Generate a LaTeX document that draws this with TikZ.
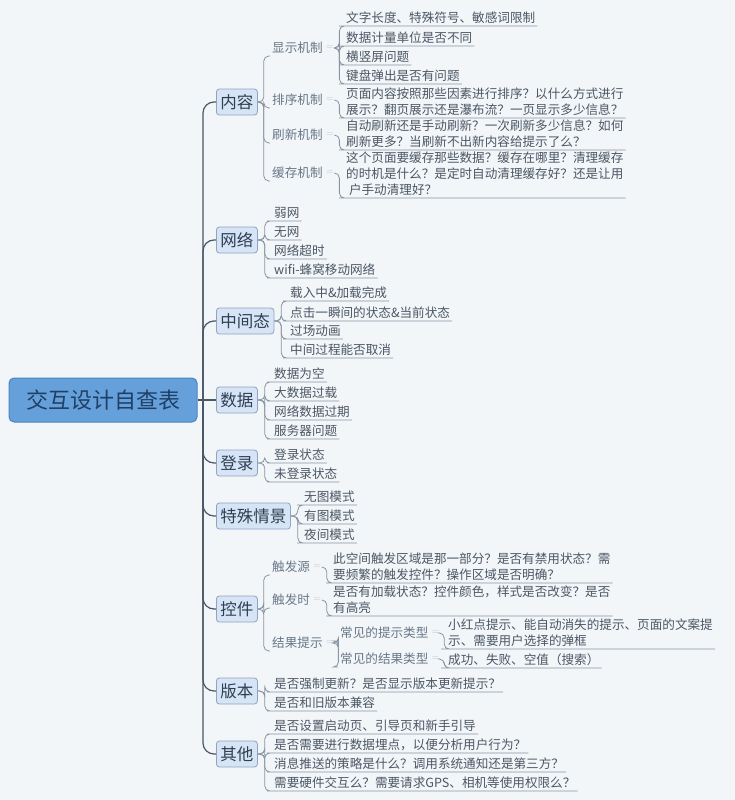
\documentclass[tikz,border=0pt]{standalone}
\usepackage{fontspec}
\newfontfamily\cjk{Noto Sans CJK SC}

\definecolor{bgc}{HTML}{F3F6F9}
\definecolor{rootfill}{HTML}{66A0DA}
\definecolor{rootline}{HTML}{4A84C2}
\definecolor{roottext}{HTML}{1F3F66}
\definecolor{topfill}{HTML}{D6E4F5}
\definecolor{topline}{HTML}{8EA5C2}
\definecolor{toptext}{HTML}{2E3F55}
\definecolor{subtext}{HTML}{687888}
\definecolor{leaftext}{HTML}{4B5764}
\definecolor{trunkc}{HTML}{4A5766}
\definecolor{twigc}{HTML}{8895A3}
\definecolor{markc}{HTML}{B3BECA}

\tikzset{
  root/.style={draw=rootline, fill=rootfill, line width=1pt, rounded corners=5pt,
    minimum width=188pt, minimum height=44pt, text=roottext,
    font=\cjk\fontsize{22}{24}\selectfont},
  topic/.style={draw=topline, fill=topfill, line width=0.8pt, rounded corners=3pt,
    anchor=west, minimum height=26pt, inner xsep=4pt, text=toptext,
    font=\cjk\fontsize{16.5}{18}\selectfont},
  sub/.style={anchor=south west, inner xsep=2pt, inner ysep=2pt, text=subtext,
    font=\cjk\fontsize{12.6}{16}\selectfont},
  leaf/.style={anchor=south west, inner xsep=2pt, inner ysep=2pt, align=left,
    text=leaftext, font=\cjk\fontsize{12.6}{16}\selectfont},
  foldmk/.style={anchor=west, inner sep=1pt, text=markc, font=\fontsize{9}{9}\selectfont},
  trunk/.style={draw=trunkc, line width=1.2pt, rounded corners=11pt},
  twig/.style={draw=twigc, line width=0.8pt, rounded corners=5pt},
}

\begin{document}
\begin{tikzpicture}[x=1pt,y=-1pt]
   \fill[bgc] (0,0) rectangle (735,800);

   \node[root] (root) at (103,400) {交互设计自查表};
   \coordinate (tr) at (203,400);

   \node[topic] (nr) at (216,102) {内容};
   \node[topic] (nw) at (216,240) {网络};
   \node[topic] (nz) at (216,321) {中间态};
   \node[topic] (ns) at (216,400) {数据};
   \node[topic] (nd) at (216,463) {登录};
   \node[topic] (nt) at (216,516) {特殊情景};
   \node[topic] (nk) at (216,609) {控件};
   \node[topic] (nb) at (216,691) {版本};
   \node[topic] (nq) at (216,754) {其他};

   \draw[trunk] (root.east) -- (tr);
   \draw[trunk] (tr) |- (nr.west);
   \draw[trunk] (tr) |- (nw.west);
   \draw[trunk] (tr) |- (nz.west);
   \draw[trunk] (tr) -- (ns.west);
   \draw[trunk] (tr) |- (nd.west);
   \draw[trunk] (tr) |- (nt.west);
   \draw[trunk] (tr) |- (nk.west);
   \draw[trunk] (tr) |- (nb.west);
   \draw[trunk] (tr) |- (nq.west);

   % 内容
   \node[sub] (xs) at (270,56) {显示机制};
   \node[sub] (px) at (270,108) {排序机制};
   \node[sub] (sx) at (270,143) {刷新机制};
   \node[sub] (hc) at (270,181) {缓存机制};
   \node[foldmk] (xsm) at (xs.east) {=};
   \node[foldmk] (pxm) at (px.east) {=};
   \node[foldmk] (sxm) at (sx.east) {=};
   \node[foldmk] (hcm) at (hc.east) {=};
   \draw[twig] (nr.east) -- ++(6,0) |- (xs.south west);
   \draw[twig] (nr.east) -- ++(6,0) |- (px.south west);
   \draw[twig] (nr.east) -- ++(6,0) |- (sx.south west);
   \draw[twig] (nr.east) -- ++(6,0) |- (hc.south west);

   \node[leaf] (xs1) at (344,26) {文字长度、特殊符号、敏感词限制};
   \node[leaf] (xs2) at (344,46) {数据计量单位是否不同};
   \node[leaf] (xs3) at (344,65) {横竖屏问题};
   \node[leaf] (xs4) at (344,84) {键盘弹出是否有问题};
   \draw[twig] (xsm.east) -- ++(5,0) |- (xs1.south west) -- (xs1.south east);
   \draw[twig] (xsm.east) -- ++(5,0) |- (xs2.south west) -- (xs2.south east);
   \draw[twig] (xsm.east) -- ++(5,0) |- (xs3.south west) -- (xs3.south east);
   \draw[twig] (xsm.east) -- ++(5,0) |- (xs4.south west) -- (xs4.south east);

   \node[leaf] (px1) at (344,118) {页面内容按照那些因素进行排序？以什么方式进行\\展示？翻页展示还是瀑布流？一页显示多少信息？};
   \node[leaf] (sx1) at (344,150) {自动刷新还是手动刷新？一次刷新多少信息？如何\\刷新更多？当刷新不出新内容给提示了么？};
   \node[leaf] (hc1) at (344,198) {这个页面要缓存那些数据？缓存在哪里？清理缓存\\的时机是什么？是定时自动清理缓存好？还是让用\\\ 户手动清理好？};
   \draw[twig] (pxm.east) -- ++(5,0) |- (px1.south west) -- (px1.south east);
   \draw[twig] (sxm.east) -- ++(5,0) |- (sx1.south west) -- (sx1.south east);
   \draw[twig] (hcm.east) -- ++(5,0) |- (hc1.south west) -- (hc1.south east);

   % 网络
   \node[leaf] (nw1) at (272,221) {弱网};
   \node[leaf] (nw2) at (272,240) {无网};
   \node[leaf] (nw3) at (272,259) {网络超时};
   \node[leaf] (nw4) at (272,278) {wifi-蜂窝移动网络};
   \draw[twig] (nw.east) -- ++(7,0) |- (nw1.south west) -- (nw1.south east);
   \draw[twig] (nw.east) -- ++(7,0) |- (nw2.south west) -- (nw2.south east);
   \draw[twig] (nw.east) -- ++(7,0) |- (nw3.south west) -- (nw3.south east);
   \draw[twig] (nw.east) -- ++(7,0) |- (nw4.south west) -- (nw4.south east);

   % 中间态
   \node[leaf] (zj1) at (288,301) {载入中\&加载完成};
   \node[leaf] (zj2) at (288,321) {点击一瞬间的状态\&当前状态};
   \node[leaf] (zj3) at (288,339) {过场动画};
   \node[leaf] (zj4) at (288,358) {中间过程能否取消};
   \draw[twig] (nz.east) -- ++(7,0) |- (zj1.south west) -- (zj1.south east);
   \draw[twig] (nz.east) -- ++(7,0) |- (zj2.south west) -- (zj2.south east);
   \draw[twig] (nz.east) -- ++(7,0) |- (zj3.south west) -- (zj3.south east);
   \draw[twig] (nz.east) -- ++(7,0) |- (zj4.south west) -- (zj4.south east);

   % 数据
   \node[leaf] (sj1) at (272,382) {数据为空};
   \node[leaf] (sj2) at (272,401) {大数据过载};
   \node[leaf] (sj3) at (272,420) {网络数据过期};
   \node[leaf] (sj4) at (272,439) {服务器问题};
   \draw[twig] (ns.east) -- ++(7,0) |- (sj1.south west) -- (sj1.south east);
   \draw[twig] (ns.east) -- ++(7,0) |- (sj2.south west) -- (sj2.south east);
   \draw[twig] (ns.east) -- ++(7,0) |- (sj3.south west) -- (sj3.south east);
   \draw[twig] (ns.east) -- ++(7,0) |- (sj4.south west) -- (sj4.south east);

   % 登录
   \node[leaf] (dl1) at (272,463) {登录状态};
   \node[leaf] (dl2) at (272,482) {未登录状态};
   \draw[twig] (nd.east) -- ++(7,0) |- (dl1.south west) -- (dl1.south east);
   \draw[twig] (nd.east) -- ++(7,0) |- (dl2.south west) -- (dl2.south east);

   % 特殊情景
   \node[leaf] (ts1) at (302,505) {无图模式};
   \node[leaf] (ts2) at (302,524) {有图模式};
   \node[leaf] (ts3) at (302,543) {夜间模式};
   \draw[twig] (nt.east) -- ++(7,0) |- (ts1.south west) -- (ts1.south east);
   \draw[twig] (nt.east) -- ++(7,0) |- (ts2.south west) -- (ts2.south east);
   \draw[twig] (nt.east) -- ++(7,0) |- (ts3.south west) -- (ts3.south east);

   % 控件
   \node[sub] (cf) at (270,575) {触发源};
   \node[sub] (cs) at (270,608) {触发时};
   \node[sub] (jg) at (270,651) {结果提示};
   \node[foldmk] (cfm) at (cf.east) {=};
   \node[foldmk] (csm) at (cs.east) {=};
   \node[foldmk] (jgm) at (jg.east) {=};
   \draw[twig] (nk.east) -- ++(6,0) |- (cf.south west);
   \draw[twig] (nk.east) -- ++(6,0) |- (cs.south west);
   \draw[twig] (nk.east) -- ++(6,0) |- (jg.south west);

   \node[leaf] (cf1) at (331,583) {此空间触发区域是那一部分？是否有禁用状态？需\\要频繁的触发控件？操作区域是否明确？};
   \node[leaf] (cs1) at (331,616) {是否有加载状态？控件颜色，样式是否改变？是否\\有高亮};
   \draw[twig] (cfm.east) -- ++(5,0) |- (cf1.south west) -- (cf1.south east);
   \draw[twig] (csm.east) -- ++(5,0) |- (cs1.south west) -- (cs1.south east);

   \node[sub] (jg1) at (338,641) {常见的提示类型};
   \node[sub] (jg2) at (338,667) {常见的结果类型};
   \node[foldmk] (jg1m) at (jg1.east) {=};
   \node[foldmk] (jg2m) at (jg2.east) {=};
   \draw[twig] (jgm.east) -- ++(4,0) |- (jg1.south west);
   \draw[twig] (jgm.east) -- ++(4,0) |- (jg2.south west);
   \node[leaf] (jg1a) at (446,649) {小红点提示、能自动消失的提示、页面的文案提\\示、需要用户选择的弹框};
   \node[leaf] (jg2a) at (446,668) {成功、失败、空值（搜索）};
   \draw[twig] (jg1m.east) -- ++(4,0) |- (jg1a.south west) -- (jg1a.south east);
   \draw[twig] (jg2m.east) -- ++(4,0) |- (jg2a.south west) -- (jg2a.south east);

   % 版本
   \node[leaf] (bb1) at (272,692) {是否强制更新？是否显示版本更新提示？};
   \node[leaf] (bb2) at (272,711) {是否和旧版本兼容};
   \draw[twig] (nb.east) -- ++(7,0) |- (bb1.south west) -- (bb1.south east);
   \draw[twig] (nb.east) -- ++(7,0) |- (bb2.south west) -- (bb2.south east);

   % 其他
   \node[leaf] (qt1) at (272,734) {是否设置启动页、引导页和新手引导};
   \node[leaf] (qt2) at (272,753) {是否需要进行数据埋点，以便分析用户行为？};
   \node[leaf] (qt3) at (272,772) {消息推送的策略是什么？调用系统通知还是第三方？};
   \node[leaf] (qt4) at (272,791) {需要硬件交互么？需要请求GPS、相机等使用权限么？};
   \draw[twig] (nq.east) -- ++(7,0) |- (qt1.south west) -- (qt1.south east);
   \draw[twig] (nq.east) -- ++(7,0) |- (qt2.south west) -- (qt2.south east);
   \draw[twig] (nq.east) -- ++(7,0) |- (qt3.south west) -- (qt3.south east);
   \draw[twig] (nq.east) -- ++(7,0) |- (qt4.south west) -- (qt4.south east);
\end{tikzpicture}
\end{document}
